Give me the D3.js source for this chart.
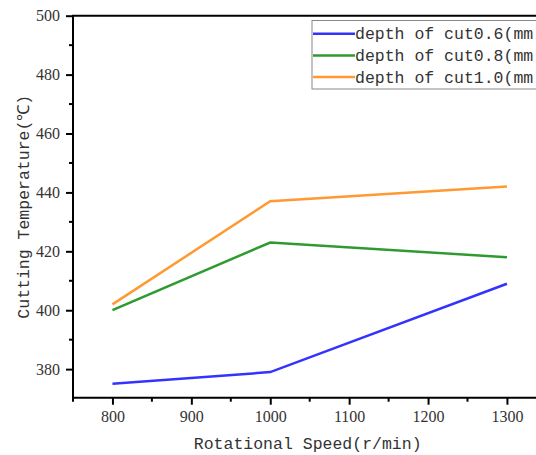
<!DOCTYPE html>
<html>
<head>
<meta charset="utf-8">
<script src="https://cdn.jsdelivr.net/npm/d3@7"></script>
<style>
  body { margin: 0; background: #fff; overflow: hidden; }
  .aText { font-family: "Liberation Mono", "DejaVu Sans Mono", monospace; font-size: 16.5px; fill: #333; }
  .tick text { font-family: "Liberation Serif", "DejaVu Serif", serif; font-size: 16px; }
</style>
</head>
<body>
<div id="chart"></div>
<script>
// data
var speeds = [800, 1000, 1300];
var depth06 = [375, 379, 409];
var depth08 = [400, 423, 418];
var depth10 = [402, 437, 442];
var seriesNames = ['depth of cut0.6(mm)', 'depth of cut0.8(mm)', 'depth of cut1.0(mm)'];
var seriesColors = ['#3333ff', '#2f9a2f', '#ff9a33'];
var xTicks = [800, 900, 1000, 1100, 1200, 1300];
var yTicks = [380, 400, 420, 440, 460, 480, 500];

var svgWidth = 536;
var svgHeight = 455;

// plot area edges
var plotLeft = 73, plotTop = 15.7, plotBottom = 397.7, plotRight = 546.4;

var svg = d3.select('#chart')
    .append('svg')
    .attr('width', svgWidth)
    .attr('height', svgHeight);

var x = d3.scaleLinear().domain([750, 1350]).range([plotLeft, plotRight]);
var y = d3.scaleLinear().domain([370.3, 500]).range([plotBottom, plotTop]);

// minor ticks
svg.append('g')
    .selectAll('line')
    .data(d3.range(750, 1351, 50).filter(v => v % 100 !== 0))
    .enter()
    .append('line')
    .attr('x1', d => x(d)).attr('x2', d => x(d))
    .attr('y1', plotBottom).attr('y2', plotBottom + 4)
    .attr('stroke', '#000').attr('stroke-width', 2);

svg.append('g')
    .selectAll('line')
    .data(d3.range(390, 500, 20))
    .enter()
    .append('line')
    .attr('x1', plotLeft - 4).attr('x2', plotLeft)
    .attr('y1', d => y(d)).attr('y2', d => y(d))
    .attr('stroke', '#000').attr('stroke-width', 2);

// axes
var xAxis = svg.append('g')
    .attr('transform', `translate(0,${plotBottom})`)
    .call(d3.axisBottom(x).tickValues(xTicks).tickFormat(d3.format('d'))
        .tickSizeInner(7).tickSizeOuter(0).tickPadding(6));

var yAxis = svg.append('g')
    .attr('transform', `translate(${plotLeft},0)`)
    .call(d3.axisLeft(y).tickValues(yTicks).tickFormat(d3.format('d'))
        .tickSizeInner(7).tickSizeOuter(0).tickPadding(6));

[xAxis, yAxis].forEach(function(ax) {
    ax.select('.domain').attr('stroke', '#000').attr('stroke-width', 2);
    ax.selectAll('.tick line').attr('stroke', '#000').attr('stroke-width', 2);
    ax.selectAll('.tick text')
        .attr('fill', '#333')
        .style('font-family', "'Liberation Serif', serif")
        .style('font-size', '16px');
});
xAxis.select('.domain').attr('d', `M${plotLeft - 1},0H${plotRight}`);
yAxis.select('.domain').attr('d', `M0,${plotBottom + 1}V${plotTop}`);

// top border
svg.append('line')
    .attr('x1', plotLeft - 1).attr('x2', plotRight)
    .attr('y1', plotTop).attr('y2', plotTop)
    .attr('stroke', '#000').attr('stroke-width', 2);

// lines
var allSeries = [depth06, depth08, depth10];
var line = d3.line()
    .x((d, i) => x(speeds[i]))
    .y(d => y(d));

svg.append('g')
    .selectAll('path')
    .data(allSeries)
    .enter()
    .append('path')
    .attr('d', d => line(d))
    .attr('fill', 'none')
    .attr('stroke', (d, i) => seriesColors[i])
    .attr('stroke-width', 2.5);

// legend
var legend = svg.append('g');
legend.append('rect')
    .attr('x', 312).attr('y', 20.5)
    .attr('width', 240).attr('height', 68.5)
    .attr('fill', '#fff')
    .attr('stroke', '#888')
    .attr('stroke-width', 1);

var rows = legend.selectAll('g.row')
    .data(seriesNames)
    .enter()
    .append('g')
    .attr('class', 'row')
    .attr('transform', (d, i) => `translate(0,${33.7 + i * 21.7})`);

rows.append('line')
    .attr('x1', 313).attr('x2', 355)
    .attr('y1', 0).attr('y2', 0)
    .attr('stroke', (d, i) => seriesColors[i])
    .attr('stroke-width', 2.5);

rows.append('text')
    .classed('aText', true)
    .attr('x', 355)
    .attr('y', 5.5)
    .text(d => d);

// axis labels
svg.append('text')
    .classed('aText', true)
    .attr('x', (plotLeft + plotRight) / 2 - 2)
    .attr('y', 449)
    .attr('text-anchor', 'middle')
    .text('Rotational Speed(r/min)');

svg.append('text')
    .classed('aText', true)
    .attr('transform', `translate(29,${(plotTop + plotBottom) / 2}) rotate(-90)`)
    .attr('text-anchor', 'middle')
    .text('Cutting Temperature(℃)');
</script>
</body>
</html>
